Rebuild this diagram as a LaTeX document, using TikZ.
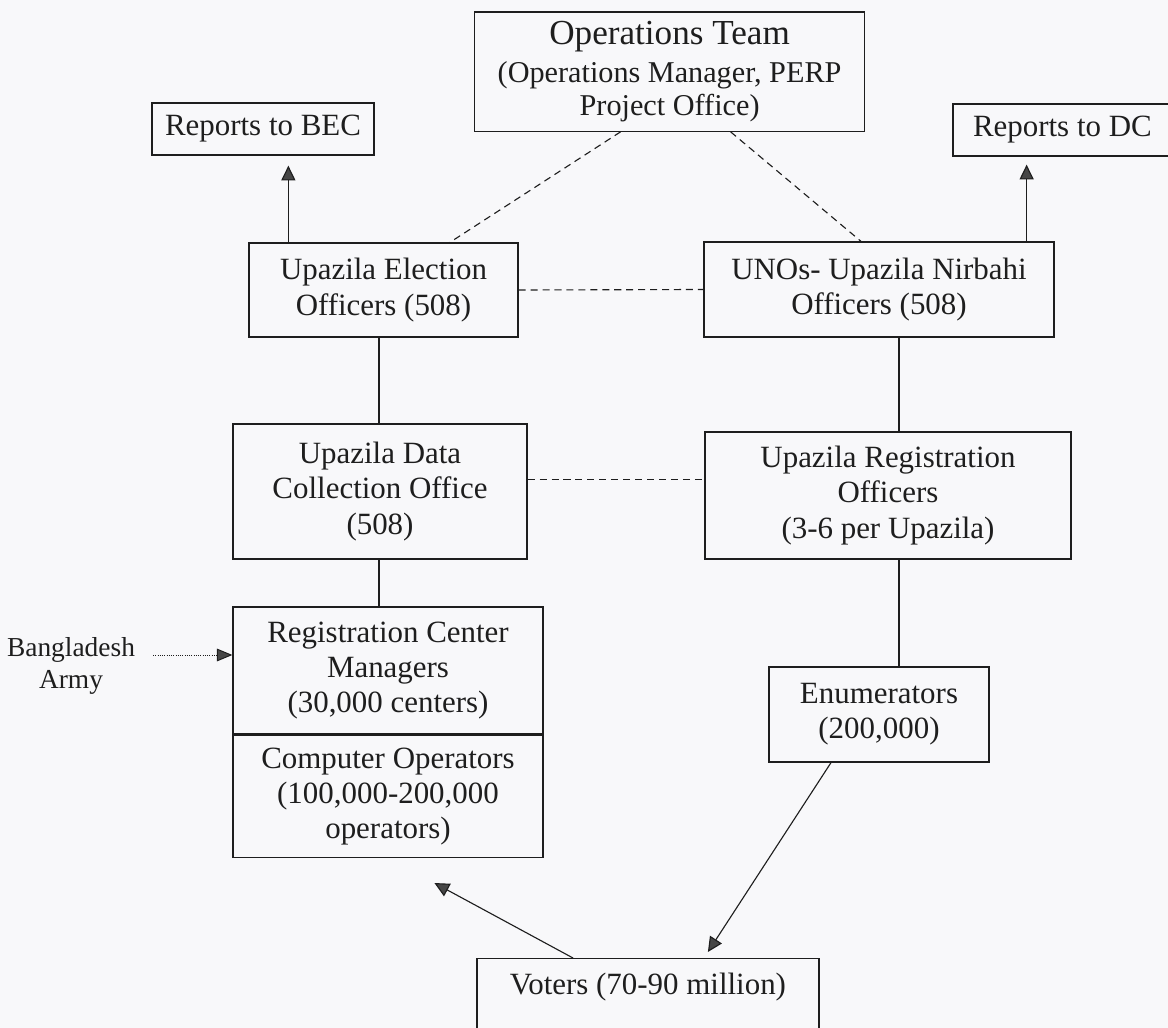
\documentclass[tikz,border=0pt]{standalone}
\usepackage{fontspec}
\setmainfont{Liberation Serif}
\usepackage{tikz}
\usepackage{xcolor}
\usetikzlibrary{arrows.meta,positioning,calc}

\definecolor{paper}{RGB}{248,248,250}
\definecolor{ink}{RGB}{30,30,30}
\definecolor{tipgray}{RGB}{70,70,70}

\begin{document}
\begin{tikzpicture}[
    box/.style={draw=ink, rectangle, line width=0.9pt, inner sep=0pt, align=center, text=ink, font=\fontsize{22}{25}\selectfont},
    link/.style={draw=ink, line width=0.8pt},
    dashlink/.style={draw=ink, line width=0.8pt, dash pattern=on 5pt off 3.5pt},
    arr/.style={draw=ink, line width=0.8pt, -{Triangle[length=10.5pt,width=10pt,fill=tipgray]}},
    dotarr/.style={draw=ink, line width=0.7pt, dash pattern=on 0.7pt off 0.9pt, -{Triangle[length=11pt,width=9pt,fill=tipgray]}}
]
    \fill[paper] (0,0) rectangle (29.2,-25.7);
    \useasboundingbox (0,0) rectangle (29.2,-25.7);

    % Operations team and reporting
    \node[box, minimum width=9.76cm, minimum height=2.98cm, font=\fontsize{21.5}{23.5}\selectfont] (ops) at (16.74,-1.79) {{\fontsize{25}{30}\selectfont Operations Team}\\[3pt](Operations Manager, PERP\\Project Office)};
    \node[box, minimum width=5.55cm, minimum height=1.3cm] (bec) at (6.575,-3.225) {Reports to BEC};
    \node[box, minimum width=5.475cm, minimum height=1.3cm] (dc) at (26.56,-3.25) {Reports to DC};

    % Upazila level
    \node[box, minimum width=6.725cm, minimum height=2.35cm] (ueo) at (9.5875,-7.25) {Upazila Election\\Officers (508)};
    \node[box, minimum width=8.75cm, minimum height=2.375cm] (uno) at (21.975,-7.2375) {UNOs- Upazila Nirbahi\\Officers (508)};
    \node[box, minimum width=7.35cm, minimum height=3.375cm] (udco) at (9.5,-12.2875) {Upazila Data\\Collection Office\\(508)};
    \node[box, minimum width=9.15cm, minimum height=3.175cm] (uro) at (22.2,-12.3875) {Upazila Registration\\Officers\\(3-6 per Upazila)};

    % Field level
    \node[box, minimum width=7.75cm, minimum height=3.175cm] (rcm) at (9.7,-16.7625) {Registration Center\\Managers\\(30,000 centers)};
    \node[box, minimum width=7.75cm, minimum height=3.05cm, below=0pt of rcm] (cop) {Computer Operators\\(100,000-200,000\\operators)};
    \node[box, minimum width=5.5cm, minimum height=2.375cm] (enu) at (21.975,-17.8625) {Enumerators\\(200,000)};
    \node[align=center, text=ink, font=\fontsize{19.5}{23}\selectfont] (army) at (1.775,-16.65) {Bangladesh\\Army};
    \node[box, minimum width=8.55cm, minimum height=2.4cm, anchor=north] (vot) at (16.2,-23.95) {Voters (70-90 million)\\ \strut};

    % Connect nodes
    \coordinate (lcol) at (9.475,0);
    \coordinate (rcol) at (22.475,0);

    \draw[arr, shorten >=0.25cm] ([xshift=1cm]ueo.north west) -- ([xshift=1cm]ueo.north west |- bec.south);
    \draw[arr, shorten >=0.2cm] ([xshift=-0.7cm]uno.north east) -- ([xshift=-0.7cm]uno.north east |- dc.south);

    \draw[dashlink] ([xshift=-1.225cm]ops.south) -- ([xshift=1.66cm]ueo.north);
    \draw[dashlink] ([xshift=1.525cm]ops.south) -- ([xshift=-0.45cm]uno.north);
    \draw[dashlink] (ueo.east) -- (uno.west);
    \draw[dashlink] ([yshift=0.3cm]udco.east) -- ([yshift=0.3cm]udco.east -| uro.west);

    \draw[link] (ueo.south -| lcol) -- (udco.north -| lcol);
    \draw[link] (udco.south -| lcol) -- (rcm.north -| lcol);
    \draw[link] (uno.south -| rcol) -- (uro.north -| rcol);
    \draw[link] (uro.south -| rcol) -- (enu.north -| rcol);

    \draw[dotarr, shorten <=0.33cm] ([yshift=0.275cm]army.east) -- ([yshift=0.275cm]army.east -| rcm.west);

    \draw[arr, shorten >=0.18cm] ([xshift=-1.2cm]enu.south) -- ([xshift=1.4cm]vot.north);
    \draw[arr, shorten >=1.32cm] ([xshift=-1.875cm]vot.north) -- (cop.south);
\end{tikzpicture}
\end{document}
